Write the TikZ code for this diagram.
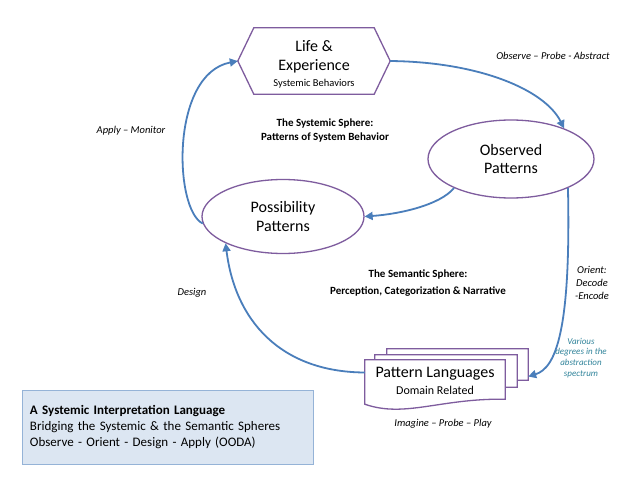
\documentclass[tikz,border=0pt]{standalone}
\usepackage{fontspec}
\setmainfont{Carlito}
\usetikzlibrary{shapes.geometric,arrows.meta,calc}
\definecolor{arrowblue}{HTML}{4A7EBB}
\definecolor{shapepurple}{HTML}{7E5C9E}
\definecolor{boxfill}{HTML}{DCE6F2}
\definecolor{boxline}{HTML}{95B3D7}
\definecolor{tealtext}{HTML}{31849B}
\begin{document}
\begin{tikzpicture}[x=1pt,y=-1pt,
  conn/.style={draw=arrowblue, line width=1.8pt, -{Triangle[length=8pt,width=8pt]}},
  ellnode/.style={ellipse, draw=shapepurple, line width=1.3pt, fill=white, align=center, inner sep=0pt, font=\fontsize{16}{18.5}\selectfont},
  holder/.style={rectangle, inner sep=0pt},
  pageshape/.style={draw=shapepurple, line width=1.3pt, fill=white},
  lbl/.style={font=\fontsize{10.5}{13}\selectfont\itshape, align=center, inner sep=0pt},
  boldlbl/.style={font=\fontsize{11}{14}\selectfont\bfseries, align=center, inner sep=0pt},
]
\useasboundingbox (0,0) rectangle (638,479);
\fill[white] (0,0) rectangle (638,479);

% Life & Experience hexagon
\node[holder, minimum width=152pt, minimum height=66pt] (life) at (314,61) {};
\draw[pageshape] ($(life.north west)+(16,0)$) -- ($(life.north east)+(-16,0)$) -- (life.east)
  -- ($(life.south east)+(-16,0)$) -- ($(life.south west)+(16,0)$) -- (life.west) -- cycle;
\node[align=center, inner sep=0pt, font=\fontsize{16}{19}\selectfont] (lifetext) at (314,64)
  {Life \&\\Experience\\[-3pt]{\fontsize{10.5}{12}\selectfont Systemic Behaviors}};

% Ellipses
\node[ellnode, minimum width=166pt, minimum height=78pt] (obs) at (511,159) {Observed\\Patterns};
\node[ellnode, minimum width=162pt, minimum height=74pt] (poss) at (283,216.5) {Possibility\\Patterns};

% Pattern Languages (stacked documents)
\node[holder, minimum width=141pt, minimum height=37pt] (pl3) at (457.5,367.5) {};
\node[holder, minimum width=142pt, minimum height=38pt] (pl2) at (446,374) {};
\node[holder, minimum width=140pt, minimum height=45pt] (pl) at (435,382.5) {};
\foreach \p in {pl3,pl2,pl} {
  \draw[pageshape] ($(\p.south west)+(0,-1)$) -- (\p.north west) -- (\p.north east) -- ($(\p.south east)+(0,-6)$)
    .. controls ($(\p.south east)+(-65,-7)$) and ($(\p.south west)+(40,13)$) .. ($(\p.south west)+(0,-1)$) -- cycle;
}
\node[holder, align=center, font=\fontsize{16}{17}\selectfont] (pltext) at (435,381)
  {Pattern Languages\\{\fontsize{12}{15}\selectfont Domain Related}};

% Connectors
\draw[conn] (poss.185) .. controls (174,210) and (170,74) .. (life.west);
\draw[conn] (life.east) .. controls (480,62) and (545,90) .. (obs.30);
\draw[conn] (obs.207) .. controls (440,205) and (400,214) .. (poss.east);
\draw[conn] (obs.-27) .. controls (571,330) and (556,368) .. ($(pl3.east)+(0,9)$);
\draw[conn] ($(pl.west)+(0,-10)$) .. controls (280,372) and (235,320) .. (poss.205);

% Labels
\node[lbl] (obsprobe) at (553,56) {Observe – Probe - Abstract};
\node[lbl] (applymon) at (131,131) {Apply – Monitor};
\node[boldlbl] (sys) at (325,131) {The Systemic Sphere:\\Patterns of System Behavior};
\node[boldlbl, font=\fontsize{11}{17.5}\selectfont\bfseries] (sem) at (418,283) {The Semantic Sphere:\\Perception, Categorization \& Narrative};
\node[lbl] (design) at (192,293) {Design};
\node[lbl] (orient) at (592,282.5) {Orient:\\Decode\\-Encode};
\node[lbl, font=\fontsize{9}{10.8}\selectfont\itshape, text=tealtext] (various) at (581,358) {Various\\degrees in the\\abstraction\\spectrum};
\node[lbl] (imagine) at (443,424) {Imagine – Probe – Play};

% Legend box
\node[draw=boxline, fill=boxfill, line width=1pt, text width=275pt, inner xsep=8pt, minimum height=74pt,
  align=left, font=\fontsize{13}{16}\selectfont] (legend) at (167.5,427)
  {\textbf{A Systemic Interpretation Language}\\Bridging the Systemic \& the Semantic Spheres\\Observe - Orient - Design - Apply (OODA)};
\end{tikzpicture}
\end{document}
